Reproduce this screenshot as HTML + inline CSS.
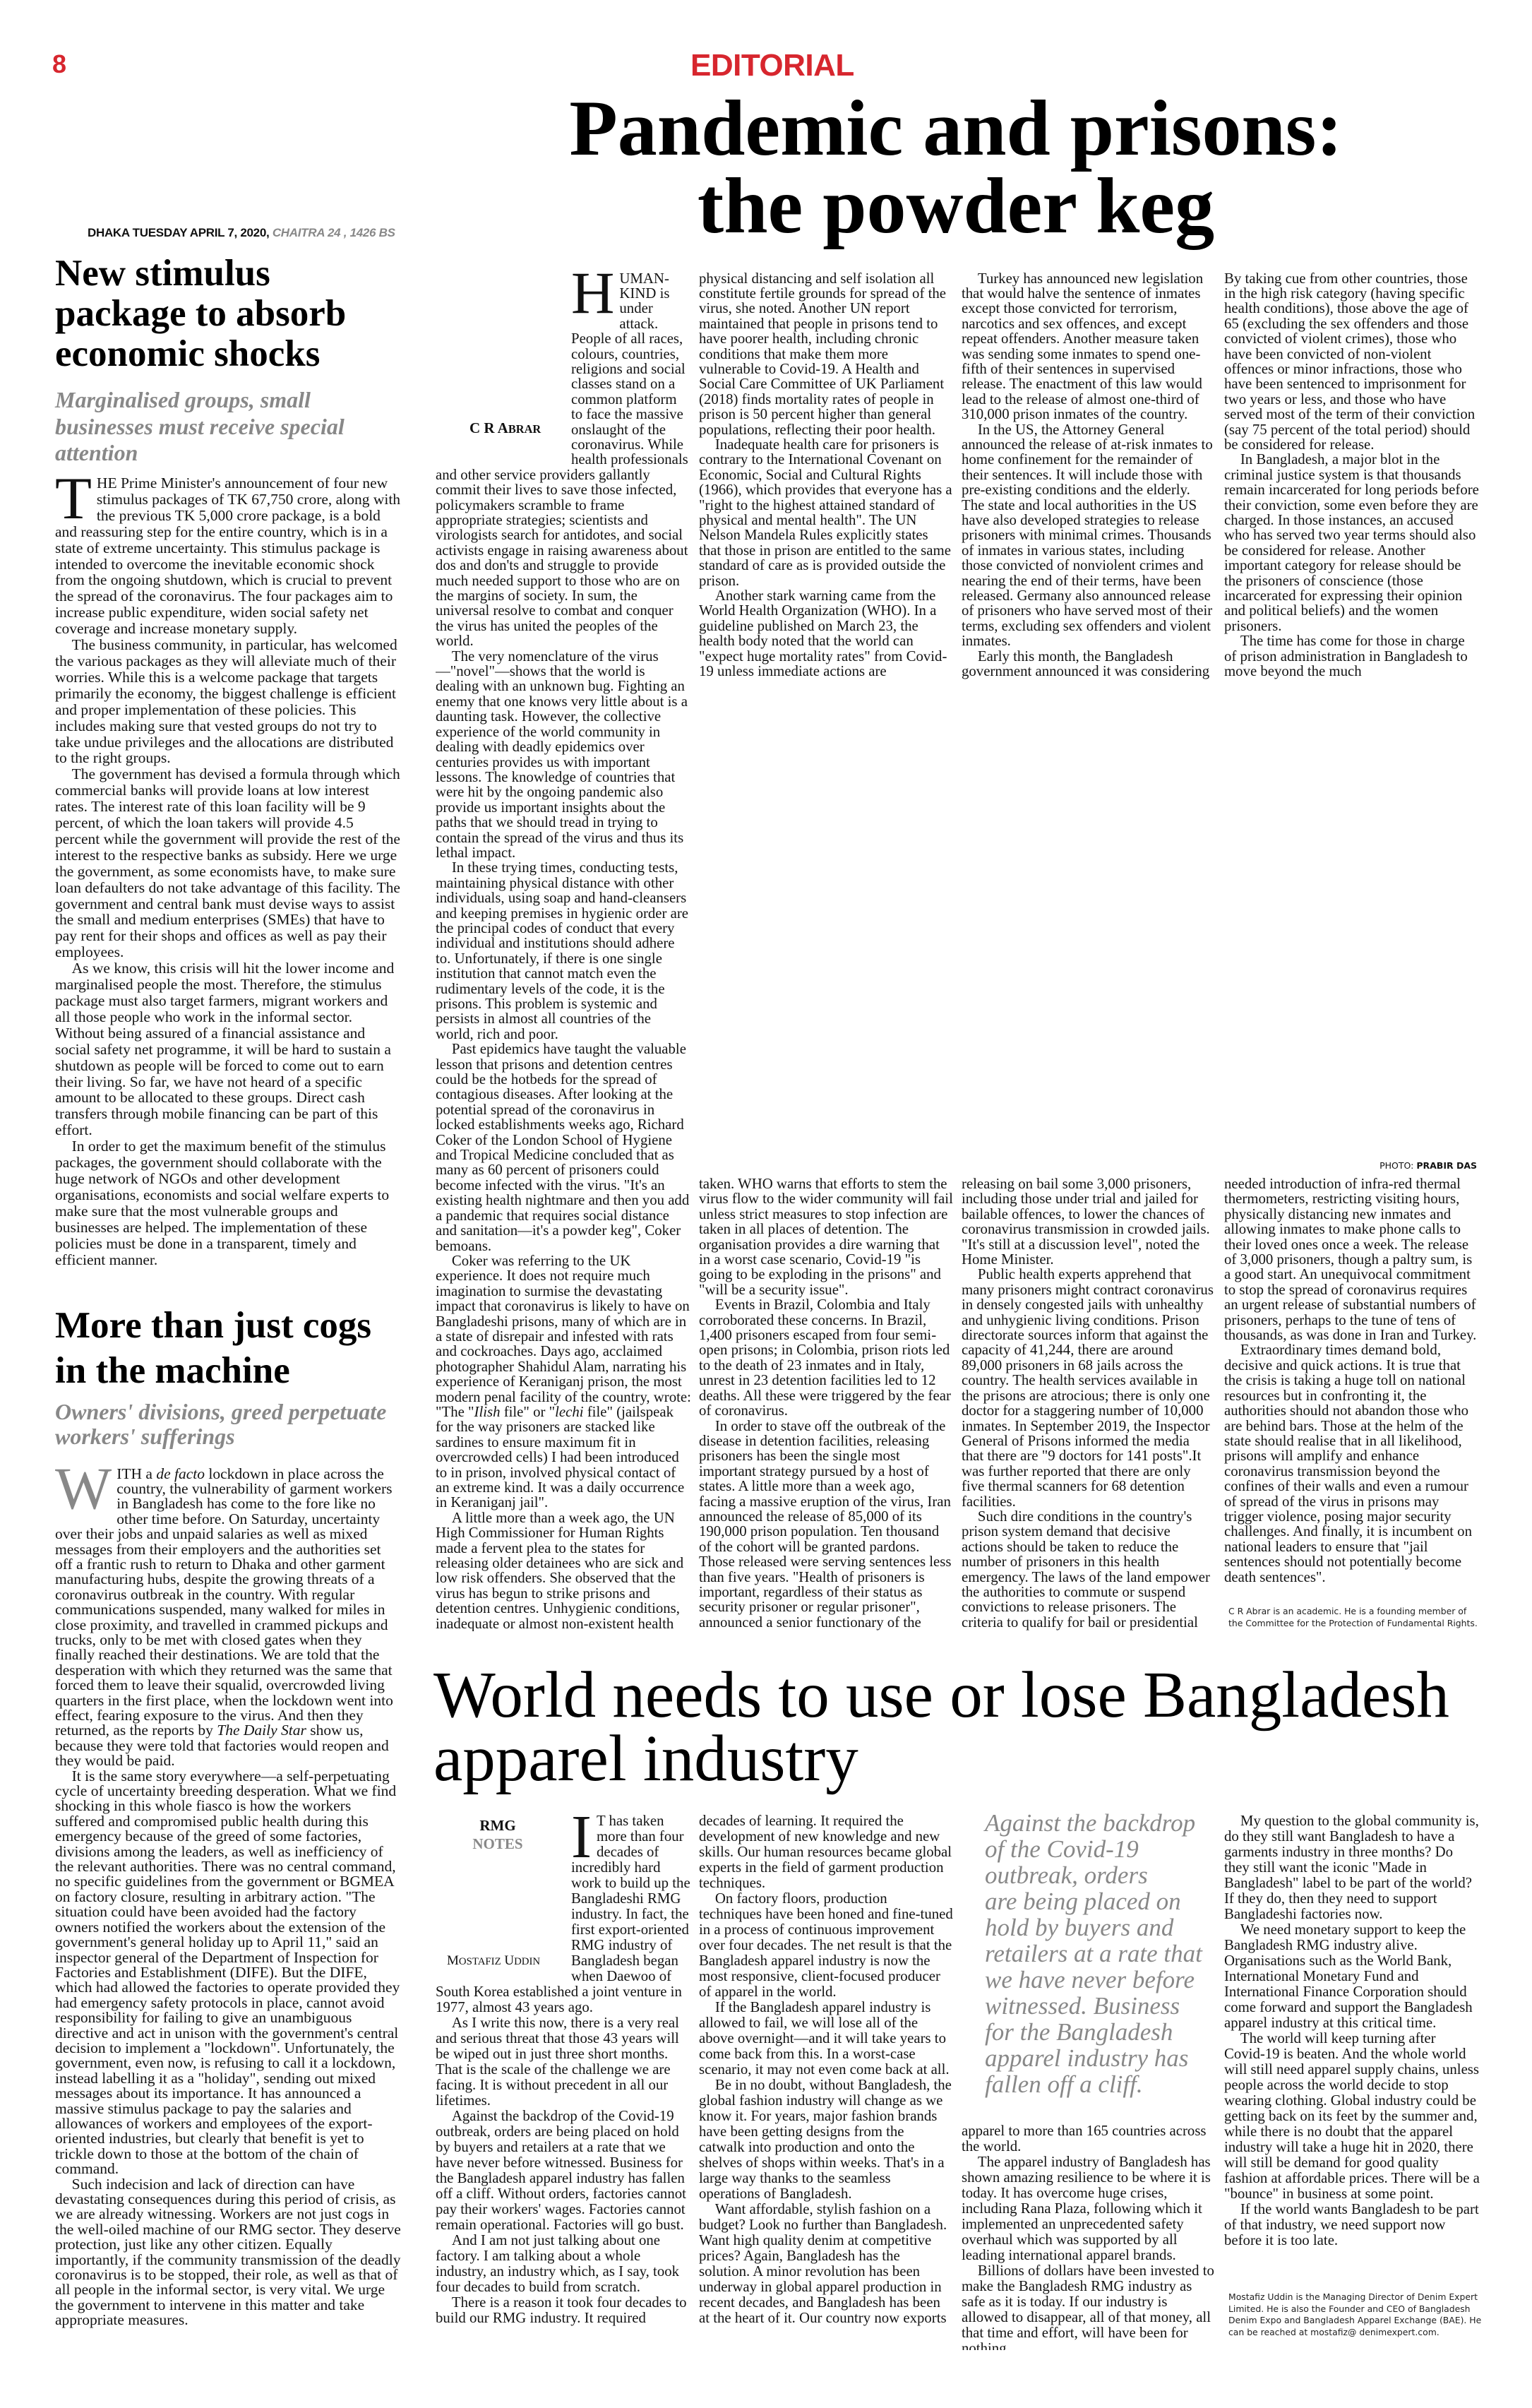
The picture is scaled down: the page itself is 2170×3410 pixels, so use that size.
<!DOCTYPE html>
<html><head><meta charset="utf-8">
<style>
*{margin:0;padding:0;box-sizing:border-box}
html,body{width:2170px;height:3410px;background:#fff;overflow:hidden}
body{position:relative;font-family:"Liberation Serif",serif;color:#111}
.a{position:absolute}
.c{position:absolute;font-size:21.5px;line-height:21.4px;overflow:hidden;color:#141414}
.c.m{font-size:20.8px}
.c p{text-indent:1.1em}
.c p.f{text-indent:0}
.c.b{line-height:22px;font-size:20.8px}
.dc{float:left;font-size:85px;line-height:63px;height:63px;margin:0 7px 1.4px 0;color:#111}
.dcb{float:left;font-size:87px;line-height:65px;height:65px;margin:0 7px 1px 0}
.hl{font-weight:bold;font-size:53px;color:#000}
.sub{font-weight:bold;font-style:italic;font-size:32px;color:#888}
.note{font-family:"DejaVu Sans",sans-serif;font-size:12.4px;line-height:16.7px;color:#222}
.sc{font-size:0.78em}
</style></head><body>

<div class="a" style="left:74px;top:70px;font:bold 36px 'Liberation Sans Narrow','Liberation Sans',sans-serif;color:#d7262e">8</div>
<div class="a" style="left:978px;top:68px;font:bold 44px 'Liberation Sans Narrow','Liberation Sans',sans-serif;color:#d7262e;letter-spacing:-0.5px">EDITORIAL</div>

<div class="a" style="left:600px;top:127px;width:1508px;text-align:center;font-weight:bold;font-size:112px;line-height:110px;color:#000">Pandemic and prisons:<br>the powder keg</div>

<div class="a" style="left:124px;top:320px;font:bold 17px 'Liberation Sans Narrow','Liberation Sans',sans-serif;color:#111;letter-spacing:-0.3px">DHAKA TUESDAY APRIL 7, 2020, <span style="font-style:italic;color:#888">CHAITRA 24 , 1426 BS</span></div>

<!-- Left article 1 -->
<div class="a hl" style="left:78px;top:359px;width:500px;line-height:57px">New stimulus<br>package to absorb<br>economic shocks</div>
<div class="a sub" style="left:78px;top:548px;width:500px;line-height:37.5px">Marginalised groups, small<br>businesses must receive special<br>attention</div>
<div class="c" style="left:78px;top:673px;width:490px;height:1140px;line-height:22.9px">
<p class="f"><span class="dc" style="line-height:66px;height:66px;margin-bottom:2.7px">T</span>HE Prime Minister's announcement of four new stimulus packages of TK 67,750 crore, along with the previous TK 5,000 crore package, is a bold and reassuring step for the entire country, which is in a state of extreme uncertainty. This stimulus package is intended to overcome the inevitable economic shock from the ongoing shutdown, which is crucial to prevent the spread of the coronavirus. The four packages aim to increase public expenditure, widen social safety net coverage and increase monetary supply.</p>
<p>The business community, in particular, has welcomed the various packages as they will alleviate much of their worries. While this is a welcome package that targets primarily the economy, the biggest challenge is efficient and proper implementation of these policies. This includes making sure that vested groups do not try to take undue privileges and the allocations are distributed to the right groups.</p>
<p>The government has devised a formula through which commercial banks will provide loans at low interest rates. The interest rate of this loan facility will be 9 percent, of which the loan takers will provide 4.5 percent while the government will provide the rest of the interest to the respective banks as subsidy. Here we urge the government, as some economists have, to make sure loan defaulters do not take advantage of this facility. The government and central bank must devise ways to assist the small and medium enterprises (SMEs) that have to pay rent for their shops and offices as well as pay their employees.</p>
<p>As we know, this crisis will hit the lower income and marginalised people the most. Therefore, the stimulus package must also target farmers, migrant workers and all those people who work in the informal sector. Without being assured of a financial assistance and social safety net programme, it will be hard to sustain a shutdown as people will be forced to come out to earn their living. So far, we have not heard of a specific amount to be allocated to these groups. Direct cash transfers through mobile financing can be part of this effort.</p>
<p>In order to get the maximum benefit of the stimulus packages, the government should collaborate with the huge network of NGOs and other development organisations, economists and social welfare experts to make sure that the most vulnerable groups and businesses are helped. The implementation of these policies must be done in a transparent, timely and efficient manner.</p>
</div>

<!-- Left article 2 -->
<div class="a hl" style="left:78px;top:1845px;width:500px;line-height:64px">More than just cogs<br>in the machine</div>
<div class="a sub" style="left:78px;top:1982px;width:520px;line-height:35px">Owners' divisions, greed perpetuate<br>workers' sufferings</div>
<div class="c" style="left:78px;top:2076.5px;width:490px;height:1250px">
<p class="f"><span class="dc" style="color:#888">W</span>ITH a <i>de facto</i> lockdown in place across the country, the vulnerability of garment workers in Bangladesh has come to the fore like no other time before. On Saturday, uncertainty over their jobs and unpaid salaries as well as mixed messages from their employers and the authorities set off a frantic rush to return to Dhaka and other garment manufacturing hubs, despite the growing threats of a coronavirus outbreak in the country. With regular communications suspended, many walked for miles in close proximity, and travelled in crammed pickups and trucks, only to be met with closed gates when they finally reached their destinations. We are told that the desperation with which they returned was the same that forced them to leave their squalid, overcrowded living quarters in the first place, when the lockdown went into effect, fearing exposure to the virus. And then they returned, as the reports by <i>The Daily Star</i> show us, because they were told that factories would reopen and they would be paid.</p>
<p>It is the same story everywhere—a self-perpetuating cycle of uncertainty breeding desperation. What we find shocking in this whole fiasco is how the workers suffered and compromised public health during this emergency because of the greed of some factories, divisions among the leaders, as well as inefficiency of the relevant authorities. There was no central command, no specific guidelines from the government or BGMEA on factory closure, resulting in arbitrary action. "The situation could have been avoided had the factory owners notified the workers about the extension of the government's general holiday up to April 11," said an inspector general of the Department of Inspection for Factories and Establishment (DIFE). But the DIFE, which had allowed the factories to operate provided they had emergency safety protocols in place, cannot avoid responsibility for failing to give an unambiguous directive and act in unison with the government's central decision to implement a "lockdown". Unfortunately, the government, even now, is refusing to call it a lockdown, instead labelling it as a "holiday", sending out mixed messages about its importance. It has announced a massive stimulus package to pay the salaries and allowances of workers and employees of the export-oriented industries, but clearly that benefit is yet to trickle down to those at the bottom of the chain of command.</p>
<p>Such indecision and lack of direction can have devastating consequences during this period of crisis, as we are already witnessing. Workers are not just cogs in the well-oiled machine of our RMG sector. They deserve protection, just like any other citizen. Equally importantly, if the community transmission of the deadly coronavirus is to be stopped, their role, as well as that of all people in the informal sector, is very vital. We urge the government to intervene in this matter and take appropriate measures.</p>
</div>

<!-- Middle article col1 -->
<div class="c m" style="left:617px;top:383.5px;width:362px;height:1926px">
<div style="float:left;width:192px;height:257px;position:relative"><div style="position:absolute;left:48px;top:210px;font-weight:bold;font-size:21px;line-height:24px;color:#111">C R A<span class="sc">BRAR</span></div></div>
<p class="f"><span class="dc">H</span>UMAN-KIND is under attack. People of all races, colours, countries, religions and social classes stand on a common platform to face the massive onslaught of the coronavirus. While health professionals and other service providers gallantly commit their lives to save those infected, policymakers scramble to frame appropriate strategies; scientists and virologists search for antidotes, and social activists engage in raising awareness about dos and don'ts and struggle to provide much needed support to those who are on the margins of society. In sum, the universal resolve to combat and conquer the virus has united the peoples of the world.</p>
<p>The very nomenclature of the virus—"novel"—shows that the world is dealing with an unknown bug. Fighting an enemy that one knows very little about is a daunting task. However, the collective experience of the world community in dealing with deadly epidemics over centuries provides us with important lessons. The knowledge of countries that were hit by the ongoing pandemic also provide us important insights about the paths that we should tread in trying to contain the spread of the virus and thus its lethal impact.</p>
<p>In these trying times, conducting tests, maintaining physical distance with other individuals, using soap and hand-cleansers and keeping premises in hygienic order are the principal codes of conduct that every individual and institutions should adhere to. Unfortunately, if there is one single institution that cannot match even the rudimentary levels of the code, it is the prisons. This problem is systemic and persists in almost all countries of the world, rich and poor.</p>
<p>Past epidemics have taught the valuable lesson that prisons and detention centres could be the hotbeds for the spread of contagious diseases. After looking at the potential spread of the coronavirus in locked establishments weeks ago, Richard Coker of the London School of Hygiene and Tropical Medicine concluded that as many as 60 percent of prisoners could become infected with the virus. "It's an existing health nightmare and then you add a pandemic that requires social distance and sanitation—it's a powder keg", Coker bemoans.</p>
<p>Coker was referring to the UK experience. It does not require much imagination to surmise the devastating impact that coronavirus is likely to have on Bangladeshi prisons, many of which are in a state of disrepair and infested with rats and cockroaches. Days ago, acclaimed photographer Shahidul Alam, narrating his experience of Keraniganj prison, the most modern penal facility of the country, wrote: "The "<i>Ilish</i> file" or "<i>lechi</i> file" (jailspeak for the way prisoners are stacked like sardines to ensure maximum fit in overcrowded cells) I had been introduced to in prison, involved physical contact of an extreme kind. It was a daily occurrence in Keraniganj jail".</p>
<p>A little more than a week ago, the UN High Commissioner for Human Rights made a fervent plea to the states for releasing older detainees who are sick and low risk offenders. She observed that the virus has begun to strike prisons and detention centres. Unhygienic conditions, inadequate or almost non-existent health services and impossibility of ensuring</p>
</div>

<!-- col2 top -->
<div class="c m" style="left:990px;top:383.5px;width:360px;height:578px">
<p class="f">physical distancing and self isolation all constitute fertile grounds for spread of the virus, she noted. Another UN report maintained that people in prisons tend to have poorer health, including chronic conditions that make them more vulnerable to Covid-19. A Health and Social Care Committee of UK Parliament (2018) finds mortality rates of people in prison is 50 percent higher than general populations, reflecting their poor health.</p>
<p>Inadequate health care for prisoners is contrary to the International Covenant on Economic, Social and Cultural Rights (1966), which provides that everyone has a "right to the highest attained standard of physical and mental health". The UN Nelson Mandela Rules explicitly states that those in prison are entitled to the same standard of care as is provided outside the prison.</p>
<p>Another stark warning came from the World Health Organization (WHO). In a guideline published on March 23, the health body noted that the world can "expect huge mortality rates" from Covid-19 unless immediate actions are</p>
</div>
<!-- col3 top -->
<div class="c m" style="left:1362px;top:383.5px;width:358px;height:578px">
<p>Turkey has announced new legislation that would halve the sentence of inmates except those convicted for terrorism, narcotics and sex offences, and except repeat offenders. Another measure taken was sending some inmates to spend one-fifth of their sentences in supervised release. The enactment of this law would lead to the release of almost one-third of 310,000 prison inmates of the country.</p>
<p>In the US, the Attorney General announced the release of at-risk inmates to home confinement for the remainder of their sentences. It will include those with pre-existing conditions and the elderly. The state and local authorities in the US have also developed strategies to release prisoners with minimal crimes. Thousands of inmates in various states, including those convicted of nonviolent crimes and nearing the end of their terms, have been released. Germany also announced release of prisoners who have served most of their terms, excluding sex offenders and violent inmates.</p>
<p>Early this month, the Bangladesh government announced it was considering</p>
</div>
<!-- col4 top -->
<div class="c m" style="left:1734px;top:383.5px;width:362px;height:578px">
<p class="f">By taking cue from other countries, those in the high risk category (having specific health conditions), those above the age of 65 (excluding the sex offenders and those convicted of violent crimes), those who have been convicted of non-violent offences or minor infractions, those who have been sentenced to imprisonment for two years or less, and those who have served most of the term of their conviction (say 75 percent of the total period) should be considered for release.</p>
<p>In Bangladesh, a major blot in the criminal justice system is that thousands remain incarcerated for long periods before their conviction, some even before they are charged. In those instances, an accused who has served two year terms should also be considered for release. Another important category for release should be the prisoners of conscience (those incarcerated for expressing their opinion and political beliefs) and the women prisoners.</p>
<p>The time has come for those in charge of prison administration in Bangladesh to move beyond the much</p>
</div>

<div class="a" style="left:1900px;top:1643px;width:192px;text-align:right;font:12.5px 'DejaVu Sans',sans-serif;color:#111;white-space:nowrap">PHOTO: <b>PRABIR DAS</b></div>

<!-- col2 bottom -->
<div class="c m" style="left:990px;top:1666px;width:360px;height:643px">
<p class="f">taken. WHO warns that efforts to stem the virus flow to the wider community will fail unless strict measures to stop infection are taken in all places of detention. The organisation provides a dire warning that in a worst case scenario, Covid-19 "is going to be exploding in the prisons" and "will be a security issue".</p>
<p>Events in Brazil, Colombia and Italy corroborated these concerns. In Brazil, 1,400 prisoners escaped from four semi-open prisons; in Colombia, prison riots led to the death of 23 inmates and in Italy, unrest in 23 detention facilities led to 12 deaths. All these were triggered by the fear of coronavirus.</p>
<p>In order to stave off the outbreak of the disease in detention facilities, releasing prisoners has been the single most important strategy pursued by a host of states. A little more than a week ago, facing a massive eruption of the virus, Iran announced the release of 85,000 of its 190,000 prison population. Ten thousand of the cohort will be granted pardons. Those released were serving sentences less than five years. "Health of prisoners is important, regardless of their status as security prisoner or regular prisoner", announced a senior functionary of the state.</p>
</div>
<!-- col3 bottom -->
<div class="c m" style="left:1362px;top:1666px;width:358px;height:643px">
<p class="f">releasing on bail some 3,000 prisoners, including those under trial and jailed for bailable offences, to lower the chances of coronavirus transmission in crowded jails. "It's still at a discussion level", noted the Home Minister.</p>
<p>Public health experts apprehend that many prisoners might contract coronavirus in densely congested jails with unhealthy and unhygienic living conditions. Prison directorate sources inform that against the capacity of 41,244, there are around 89,000 prisoners in 68 jails across the country. The health services available in the prisons are atrocious; there is only one doctor for a staggering number of 10,000 inmates. In September 2019, the Inspector General of Prisons informed the media that there are "9 doctors for 141 posts".It was further reported that there are only five thermal scanners for 68 detention facilities.</p>
<p>Such dire conditions in the country's prison system demand that decisive actions should be taken to reduce the number of prisoners in this health emergency. The laws of the land empower the authorities to commute or suspend convictions to release prisoners. The criteria to qualify for bail or presidential pardon is a matter to be worked out by the competent authorities.</p>
</div>
<!-- col4 bottom -->
<div class="c m" style="left:1734px;top:1666px;width:362px;height:588px">
<p class="f">needed introduction of infra-red thermal thermometers, restricting visiting hours, physically distancing new inmates and allowing inmates to make phone calls to their loved ones once a week. The release of 3,000 prisoners, though a paltry sum, is a good start. An unequivocal commitment to stop the spread of coronavirus requires an urgent release of substantial numbers of prisoners, perhaps to the tune of tens of thousands, as was done in Iran and Turkey.</p>
<p>Extraordinary times demand bold, decisive and quick actions. It is true that the crisis is taking a huge toll on national resources but in confronting it, the authorities should not abandon those who are behind bars. Those at the helm of the state should realise that in all likelihood, prisons will amplify and enhance coronavirus transmission beyond the confines of their walls and even a rumour of spread of the virus in prisons may trigger violence, posing major security challenges. And finally, it is incumbent on national leaders to ensure that "jail sentences should not potentially become death sentences".</p>
</div>
<div class="a note" style="left:1740px;top:2274px;width:360px">C R Abrar is an academic. He is a founding member of the Committee for the Protection of Fundamental Rights.</div>

<!-- Bottom article -->
<div class="a" style="left:614px;top:2356px;width:1500px;font-size:93px;line-height:90px;color:#000;white-space:nowrap">World needs to use or lose Bangladesh<br>apparel industry</div>

<div class="c b" style="left:617px;top:2568px;width:362px;height:760px">
<div style="float:left;width:192px;height:242px;position:relative">
<div style="position:absolute;left:0;width:176px;top:4px;text-align:center;font-weight:bold;font-size:21px;line-height:26px;color:#111">RMG<br><span style="color:#888">NOTES</span></div>
<div style="position:absolute;left:16px;top:198px;font-size:19px;line-height:22px;color:#111;white-space:nowrap">M<span class="sc">OSTAFIZ</span> U<span class="sc">DDIN</span></div>
</div>
<p class="f"><span class="dcb">I</span>T has taken more than four decades of incredibly hard work to build up the Bangladeshi RMG industry. In fact, the first export-oriented RMG industry of Bangladesh began when Daewoo of South Korea established a joint venture in 1977, almost 43 years ago.</p>
<p>As I write this now, there is a very real and serious threat that those 43 years will be wiped out in just three short months. That is the scale of the challenge we are facing. It is without precedent in all our lifetimes.</p>
<p>Against the backdrop of the Covid-19 outbreak, orders are being placed on hold by buyers and retailers at a rate that we have never before witnessed. Business for the Bangladesh apparel industry has fallen off a cliff. Without orders, factories cannot pay their workers' wages. Factories cannot remain operational. Factories will go bust.</p>
<p>And I am not just talking about one factory. I am talking about a whole industry, an industry which, as I say, took four decades to build from scratch.</p>
<p>There is a reason it took four decades to build our RMG industry. It required</p>
</div>
<div class="c b" style="left:990px;top:2568px;width:360px;height:760px">
<p class="f">decades of learning. It required the development of new knowledge and new skills. Our human resources became global experts in the field of garment production techniques.</p>
<p>On factory floors, production techniques have been honed and fine-tuned in a process of continuous improvement over four decades. The net result is that the Bangladesh apparel industry is now the most responsive, client-focused producer of apparel in the world.</p>
<p>If the Bangladesh apparel industry is allowed to fail, we will lose all of the above overnight—and it will take years to come back from this. In a worst-case scenario, it may not even come back at all.</p>
<p>Be in no doubt, without Bangladesh, the global fashion industry will change as we know it. For years, major fashion brands have been getting designs from the catwalk into production and onto the shelves of shops within weeks. That's in a large way thanks to the seamless operations of Bangladesh.</p>
<p>Want affordable, stylish fashion on a budget? Look no further than Bangladesh. Want high quality denim at competitive prices? Again, Bangladesh has the solution. A minor revolution has been underway in global apparel production in recent decades, and Bangladesh has been at the heart of it. Our country now exports</p>
</div>
<div class="a" style="left:1395px;top:2563px;width:340px;font-style:italic;font-size:35px;line-height:37px;color:#888;white-space:nowrap">Against the backdrop<br>of the Covid-19<br>outbreak, orders<br>are being placed on<br>hold by buyers and<br>retailers at a rate that<br>we have never before<br>witnessed. Business<br>for the Bangladesh<br>apparel industry has<br>fallen off a cliff.</div>
<div class="c b" style="left:1362px;top:3007px;width:358px;height:321px">
<p class="f">apparel to more than 165 countries across the world.</p>
<p>The apparel industry of Bangladesh has shown amazing resilience to be where it is today. It has overcome huge crises, including Rana Plaza, following which it implemented an unprecedented safety overhaul which was supported by all leading international apparel brands.</p>
<p>Billions of dollars have been invested to make the Bangladesh RMG industry as safe as it is today. If our industry is allowed to disappear, all of that money, all that time and effort, will have been for nothing.</p>
</div>
<div class="c b" style="left:1734px;top:2568px;width:362px;height:668px">
<p>My question to the global community is, do they still want Bangladesh to have a garments industry in three months? Do they still want the iconic "Made in Bangladesh" label to be part of the world? If they do, then they need to support Bangladeshi factories now.</p>
<p>We need monetary support to keep the Bangladesh RMG industry alive. Organisations such as the World Bank, International Monetary Fund and International Finance Corporation should come forward and support the Bangladesh apparel industry at this critical time.</p>
<p>The world will keep turning after Covid-19 is beaten. And the whole world will still need apparel supply chains, unless people across the world decide to stop wearing clothing. Global industry could be getting back on its feet by the summer and, while there is no doubt that the apparel industry will take a huge hit in 2020, there will still be demand for good quality fashion at affordable prices. There will be a "bounce" in business at some point.</p>
<p>If the world wants Bangladesh to be part of that industry, we need support now before it is too late.</p>
</div>
<div class="a note" style="left:1740px;top:3245px;width:360px">Mostafiz Uddin is the Managing Director of Denim Expert Limited. He is also the Founder and CEO of Bangladesh Denim Expo and Bangladesh Apparel Exchange (BAE). He can be reached at mostafiz@ denimexpert.com.</div>

</body></html>
